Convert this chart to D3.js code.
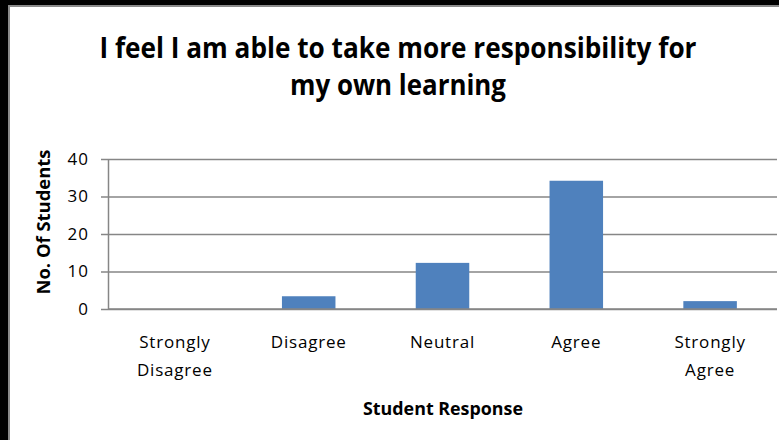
<!DOCTYPE html>
<html>
<head>
  <meta charset="utf-8">
  <script src="https://cdn.jsdelivr.net/npm/d3@7"></script>
  <style>
    body { margin: 0; background: #fff; }
    text { font-family: "Open Sans", sans-serif; fill: #000; }
  </style>
</head>
<body>
  <div id="chart"></div>
  <script>
    // chart data
    var titleLines = ['I feel I am able to take more responsibility for', 'my own learning'];
    var categories = ['Strongly Disagree', 'Disagree', 'Neutral', 'Agree', 'Strongly Agree'];
    var students = [0, 3.4, 12.3, 34.2, 2.1];
    var yTicks = [0, 10, 20, 30, 40];
    var xTitle = 'Student Response';
    var yTitle = 'No. Of Students';

    var W = 779, H = 440;
    var plot = {left: 108, right: 777, top: 159, bottom: 309};

    var svg = d3.select('#chart').append('svg')
                .attr('width', W)
                .attr('height', H);

    // frame: thick black edge on top / left with thin grey inner line
    svg.append('rect').attr('x', 0).attr('y', 0).attr('width', W).attr('height', 7).style('fill', '#000');
    svg.append('rect').attr('x', 0).attr('y', 0).attr('width', 10).attr('height', H).style('fill', '#000');
    svg.append('rect').attr('x', 8).attr('y', 5).attr('width', W - 8).attr('height', 2).style('fill', '#8a8a8a');
    svg.append('rect').attr('x', 8).attr('y', 5).attr('width', 2).attr('height', H - 5).style('fill', '#8a8a8a');

    // scales
    var x = d3.scaleBand()
              .domain(categories)
              .range([plot.left, plot.right])
              .paddingInner(0.6)
              .paddingOuter(0.3);
    var y = d3.scaleLinear().domain([0, 40]).range([plot.bottom, plot.top]);

    // gridlines
    svg.append('g')
         .attr('class', 'grid')
         .attr('transform', 'translate(' + plot.left + ',0)')
         .call(d3.axisLeft(y).tickValues(yTicks).tickSize(-(plot.right - plot.left)).tickFormat(''))
         .call(function(g) { g.select('.domain').remove(); })
         .selectAll('line')
           .style('stroke', '#868686')
           .style('stroke-width', 1.5);

    // bars
    svg.append('g').selectAll('rect')
         .data(students)
         .enter().append('rect')
           .attr('x', function(d, i) { return x(categories[i]); })
           .attr('width', x.bandwidth())
           .attr('y', function(d) { return y(d); })
           .attr('height', function(d) { return y(0) - y(d); })
           .style('fill', '#4f81bd');

    // y axis
    var yAxis = svg.append('g')
                   .attr('transform', 'translate(' + plot.left + ',0)')
                   .call(d3.axisLeft(y).tickValues(yTicks).tickSize(7).tickPadding(12).tickSizeOuter(0));
    yAxis.select('.domain').style('stroke', '#868686').style('stroke-width', 1.5);
    yAxis.selectAll('line').style('stroke', '#868686').style('stroke-width', 1.5);
    yAxis.selectAll('text')
           .style('font-size', '17px')
           .style('letter-spacing', '1px')
           .style('font-family', '"Open Sans", sans-serif')
           .style('fill', '#000');

    // x axis baseline
    svg.append('line')
         .attr('x1', plot.left).attr('x2', plot.right)
         .attr('y1', y(0)).attr('y2', y(0))
         .style('stroke', '#868686')
         .style('stroke-width', 1.5);

    // category labels (wrapped on spaces)
    var catLabels = svg.append('g').selectAll('text')
                       .data(categories)
                       .enter().append('text')
                         .attr('x', function(d) { return x(d) + x.bandwidth() / 2; })
                         .attr('y', 348)
                         .attr('text-anchor', 'middle')
                         .style('font-size', '17px')
                         .style('letter-spacing', '0.8px');
    catLabels.each(function(d) {
      var words = d.split(' ');
      var t = d3.select(this);
      words.forEach(function(w, i) {
        t.append('tspan')
           .attr('x', t.attr('x'))
           .attr('dy', i === 0 ? 0 : 28)
           .text(w);
      });
    });

    // title, squeezed to the width of the original lines
    var titleWidths = [597, 216];
    svg.append('g').selectAll('text')
         .data(titleLines)
         .enter().append('text')
           .attr('x', 398)
           .attr('y', function(d, i) { return 58 + i * 37; })
           .attr('text-anchor', 'middle')
           .attr('textLength', function(d, i) { return titleWidths[i]; })
           .attr('lengthAdjust', 'spacingAndGlyphs')
           .style('font-size', '28px')
           .style('font-weight', 'bold')
           .text(function(d) { return d; });

    // axis titles
    svg.append('text')
         .attr('x', 443)
         .attr('y', 415)
         .attr('text-anchor', 'middle')
         .attr('textLength', 160)
         .attr('lengthAdjust', 'spacingAndGlyphs')
         .style('font-size', '17px')
         .style('font-weight', 'bold')
         .text(xTitle);

    svg.append('text')
         .attr('transform', 'translate(50,' + 222 + ') rotate(-90)')
         .attr('text-anchor', 'middle')
         .attr('textLength', 145)
         .attr('lengthAdjust', 'spacingAndGlyphs')
         .style('font-size', '17px')
         .style('font-weight', 'bold')
         .text(yTitle);
  </script>
</body>
</html>
